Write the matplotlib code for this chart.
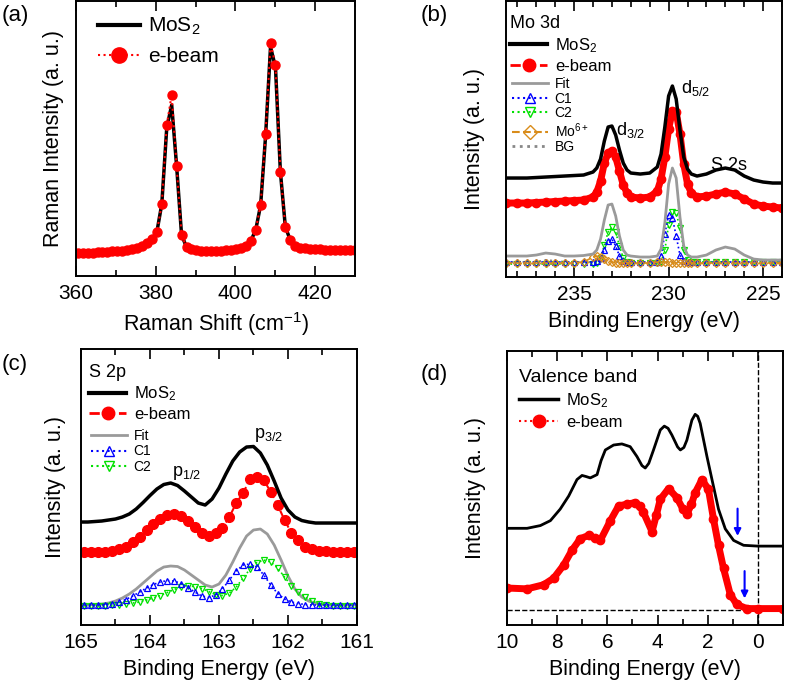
import numpy as np
import matplotlib.pyplot as plt
from matplotlib.lines import Line2D
from matplotlib.ticker import MultipleLocator

plt.rcParams['font.family'] = ['Liberation Sans', 'DejaVu Sans']
plt.rcParams['mathtext.fontset'] = 'custom'
plt.rcParams['mathtext.rm'] = 'Liberation Sans'
plt.rcParams['mathtext.it'] = 'Liberation Sans:italic'
plt.rcParams['axes.linewidth'] = 1.4

# ---- (a) Raman ----
raman_shift = np.round(360.44 + 1.24 * np.arange(57), 2)
raman_ebeam = [23, 23, 23, 23.5, 24, 24, 24.5, 25, 25, 25.5, 26, 27, 28, 30, 33, 37, 44, 72, 151, 181,
               110, 41, 29, 27, 26, 25.5, 25, 25, 25, 25.5, 26, 26.5, 27, 28, 30, 35, 46, 71, 142, 233,
               211, 104, 49, 36, 30, 28.5, 28, 27.5, 27, 27, 26.5, 26.5, 26, 26, 26, 26, 26]
raman_mos2 = [23, 23, 23, 23.5, 24, 24, 24.5, 25, 25, 25.5, 26, 27, 28, 30, 33, 37, 44, 72, 148, 171,
              110, 41, 29, 27, 26, 25.5, 25, 25, 25, 25.5, 26, 26.5, 27, 28, 30, 35, 46, 71, 140, 229,
              209, 104, 49, 36, 30, 28.5, 28, 27.5, 27, 27, 26.5, 26.5, 26, 26, 26, 26, 26]

# ---- (b) Mo 3d ----
mo_be = [238.6, 238.0, 237.5, 237.0, 236.5, 236.0, 235.5, 235.0, 234.5, 234.0,
         233.8, 233.6, 233.4, 233.2, 233.0, 232.8, 232.6, 232.4, 232.2, 232.0,
         231.5, 231.0, 230.6, 230.4, 230.2, 230.0, 229.8, 229.6, 229.4, 229.2,
         229.0, 228.8, 228.5, 228.0, 227.5, 227.0, 226.5, 226.0, 225.5, 225.0,
         224.5, 224.0]
mo_mos2 = [99, 99, 99, 99.5, 100, 100.5, 101, 101.5, 102, 105,
           109, 118, 136, 150, 151, 142, 127, 114, 107, 104,
           103, 104, 110, 123, 150, 181, 191, 178, 147, 120,
           108, 103, 101, 103, 107, 109, 107, 101, 97, 95,
           94, 94]
mo_ebeam = [74, 74, 74, 74.5, 75, 75.5, 76, 76.5, 77, 80,
            85, 96, 114, 124, 126, 120, 106, 92, 84, 80,
            79, 80, 86, 98, 120, 148, 166, 165, 143, 113,
            93, 84, 80, 81, 83, 85, 83, 78, 73, 71,
            70, 69]
mo_fit = [21, 21, 21, 22, 24, 23, 21, 21, 21.5, 23,
          27, 38, 57, 72, 73, 61, 41, 27, 22, 21,
          20, 20, 21, 28, 54, 93, 109, 99, 60, 31,
          22, 20, 20, 22, 27, 30, 28, 22, 18, 17,
          17, 17]
mo_c1 = [15, 15, 15, 15, 15, 15, 15, 15, 15, 15,
         16, 19, 27, 36, 38, 31, 21, 16, 15, 15,
         15, 15, 15, 21, 43, 62, 59, 41, 22, 16,
         15, 15, 15, 15, 15, 15, 15, 15, 15, 15,
         15, 15]
mo_c2 = [13, 13, 13, 13, 13, 13, 13, 13, 13, 13,
         14, 19, 32, 45, 50, 45, 31, 19, 15, 14,
         14, 14, 14, 15, 27, 52, 65, 64, 49, 27,
         17, 15, 15, 15, 15, 15, 15, 15, 15, 15,
         15, 15]
mo_mo6 = [14, 14, 14, 14, 14, 14, 14, 14, 15, 20,
          21, 20, 18, 16, 15, 14, 14, 14, 14, 14,
          14, 14, 15, 15, 15, 15, 14, 14, 14, 14,
          14, 14, 14, 14, 14, 14, 14, 14, 14, 14,
          14, 14]
mo_bg = [15, 15, 15, 15, 17, 16, 15, 15, 15, 15,
         15, 15, 15, 15, 15, 15, 15, 15, 15, 15,
         15, 15, 15, 15, 15, 15, 15, 15, 15, 15,
         15, 15, 15, 15, 15, 15, 15, 15, 15, 15,
         15, 15]

# ---- (c) S 2p ----
s_be_line = np.round(np.linspace(165.0, 161.0, 41), 2)
s_be_pts = np.round(np.linspace(164.95, 161.05, 40), 2)
s_mos2 = [103, 103, 103.5, 104, 105, 106, 108, 111, 116, 122.5,
          129.5, 136, 140.5, 142, 139.5, 134, 128, 122, 120, 126,
          137, 151, 164, 173, 178, 178.5, 172, 160, 144, 127,
          115, 108, 104.5, 103, 102, 102, 102, 102, 102, 102, 102]
s_fit = [20, 20, 20.5, 21, 22, 24, 27, 31, 36, 42,
         48, 54, 58, 59, 58.5, 55, 50, 45, 40, 38,
         41, 50, 63, 77, 89, 95, 96, 91, 80, 65,
         49, 36, 28, 24, 21.5, 20.5, 20, 20, 20, 20, 20]
s_ebeam = [73, 73, 73, 73, 74, 76, 78, 83, 88, 95,
           101, 106, 110, 111, 109, 104, 98, 92, 89, 92,
           97, 108, 122, 132, 146, 148, 145, 133, 120, 105,
           92, 85, 78, 76, 74, 74, 73, 73, 73, 73]
s_c1 = [20, 20, 20, 20.5, 21.5, 23, 25.5, 29, 33, 37,
        40.5, 43, 44.5, 44, 41.5, 37.5, 33, 29, 27.5, 30,
        36, 45, 54, 60, 61, 58, 50, 40, 31.5, 26,
        23, 21.5, 20.5, 20, 20, 20, 20, 20, 20, 20]
s_c2 = [19, 19, 19, 19.5, 20, 20.5, 21, 22, 23, 25,
        27, 29.5, 32.5, 35.5, 38, 39, 38.5, 36.5, 33.5, 30.5,
        29.5, 32, 38, 47, 56, 62.5, 65, 63, 57, 48,
        39.5, 33, 28, 24, 21.5, 20, 19.5, 19, 19, 19]

# ---- (d) valence band ----
vb_be_mos2 = [10.0, 9.2, 8.67, 8.27, 7.88, 7.54, 7.21, 7.01, 6.85, 6.68, 6.41,
              6.25, 6.08, 5.75, 5.42, 5.09, 4.82, 4.62, 4.49, 4.35, 4.16, 3.89, 3.73,
              3.58, 3.43, 3.20, 3.09, 2.95, 2.83, 2.63, 2.50, 2.40, 2.30, 2.03,
              1.83, 1.57, 1.30, 0.97, 0.57, 0.0, -1.0]
vb_mos2 = [35.3, 35.3, 36.3, 38.1, 42.3, 47.1, 53.1, 54.6, 54.2, 53.7, 54.9,
           60.0, 63.9, 65.7, 66.1, 65.1, 61.5, 58.2, 57.3, 59.0, 63.9, 71.2, 72.6,
           71.8, 69.4, 65.0, 63.9, 64.8, 67.5, 74.8, 76.9, 76.2, 73.6, 61.5,
           53.1, 42.3, 35.1, 30.9, 29.1, 28.8, 28.8]
vb_be_ebeam = [10.0, 9.2, 8.54, 8.14, 7.74, 7.41, 7.08, 6.75, 6.50, 6.28, 5.88,
               5.55, 5.22, 4.89, 4.70, 4.56, 4.22, 4.05, 3.89, 3.56, 3.23, 3.00, 2.83,
               2.65, 2.50, 2.23, 1.97, 1.77, 1.57, 1.37, 1.10, 0.84, 0.44, 0.0, -1.0]
vb_ebeam = [13.5, 13.2, 14.7, 17.1, 21.9, 27.3, 31.5, 32.7, 31.8, 30.9, 38.1,
            43.5, 44.1, 44.7, 43.3, 41.1, 34.1, 40.0, 45.9, 49.8, 46.5, 42.5, 40.5,
            44.0, 48.3, 53.1, 49.5, 38.7, 29.1, 20.7, 11.1, 7.5, 6.0, 6.0, 6.0]
vb_edges = [0.81, 0.53]        # arrow positions (eV)
vb_edge_tops = [43.5, 20.7]    # arrow tails


def style_axis(ax, xlim, ylim, major, minor, labelpad):
    ax.set_xlim(*xlim)
    ax.set_ylim(*ylim)
    ax.xaxis.set_major_locator(MultipleLocator(major))
    ax.xaxis.set_minor_locator(MultipleLocator(minor))
    ax.tick_params(axis='x', which='both', direction='in', top=True,
                   labelsize=15, width=1.2, pad=6)
    ax.tick_params(axis='x', which='major', length=7)
    ax.tick_params(axis='x', which='minor', length=4)
    ax.tick_params(axis='y', which='both', left=False, labelleft=False)
    ax.set_xlabel('Binding Energy (eV)', fontsize=15.5, labelpad=5)
    ax.set_ylabel('Intensity (a. u.)', fontsize=15.5, labelpad=labelpad)


fig = plt.figure(figsize=(7.87, 6.81), dpi=100)
ax_a = fig.add_axes([0.0966, 0.5947, 0.3545, 0.4038])
ax_b = fig.add_axes([0.6430, 0.5932, 0.3507, 0.4053])
ax_c = fig.add_axes([0.1029, 0.0822, 0.3507, 0.4053])
ax_d = fig.add_axes([0.6442, 0.0822, 0.3507, 0.4023])

red_c = '#ff0000'
green_c = '#00e000'
blue_c = '#0000ff'
orange_c = '#d98c1a'
gray_c = '#9a9a9a'

# (a)
ax_a.plot(raman_shift, raman_mos2, color='k', lw=2.5)
ax_a.plot(raman_shift, raman_ebeam, color=red_c, ls=':', lw=1.5, marker='o', ms=6.5)
style_axis(ax_a, (360, 430), (0, 275), 20, 10, 9)
ax_a.set_xlabel('Raman Shift (cm$^{-1}$)', fontsize=15.5, labelpad=5)
ax_a.set_ylabel('Raman Intensity (a. u.)', fontsize=15.5, labelpad=9)
h_a = [Line2D([], [], color='k', lw=3),
       Line2D([], [], color=red_c, ls=':', lw=1.5, marker='o', ms=11)]
ax_a.legend(h_a, ['MoS$_2$', 'e-beam'], loc='upper left', bbox_to_anchor=(0.08, 0.945),
            frameon=False, fontsize=15, handlelength=2.0, handletextpad=0.4,
            labelspacing=0.45, borderaxespad=0, borderpad=0)

# (b)
ax_b.plot(mo_be, mo_bg, color='#888888', ls=':', lw=1.5)
ax_b.plot(mo_be, mo_c2, color=green_c, ls=':', lw=1.2, marker='v', mfc='none', ms=5, mew=0.9)
ax_b.plot(mo_be, mo_c1, color=blue_c, ls=':', lw=1.2, marker='^', mfc='none', ms=5, mew=0.9)
ax_b.plot(mo_be, mo_mo6, color=orange_c, ls='--', lw=1.2, marker='D', mfc='none', ms=4, mew=0.9)
ax_b.plot(mo_be, mo_fit, color=gray_c, lw=2)
ax_b.plot(mo_be, mo_ebeam, color=red_c, lw=5)
ax_b.plot(mo_be, mo_ebeam, color=red_c, ls='none', marker='o', ms=6)
ax_b.plot(mo_be, mo_mos2, color='k', lw=2.5)
style_axis(ax_b, (238.6, 224.0), (0, 276), 5, 1, 15)
ax_b.text(232.0, 147, 'd$_{3/2}$', fontsize=13, ha='center', va='center')
ax_b.text(228.6, 189, 'd$_{5/2}$', fontsize=13, ha='center', va='center')
ax_b.text(226.8, 112, 'S 2s', fontsize=13, ha='center', va='center')
h_b1 = [Line2D([], [], color='k', lw=3),
        Line2D([], [], color=red_c, ls='--', lw=2, marker='o', ms=9)]
leg_b1 = ax_b.legend(h_b1, ['MoS$_2$', 'e-beam'], title='Mo 3d', loc='upper left',
                     bbox_to_anchor=(0.015, 0.95), frameon=False, fontsize=12,
                     title_fontsize=13, alignment='left', handlelength=2.2,
                     handletextpad=0.5, labelspacing=0.25, borderaxespad=0, borderpad=0)
ax_b.add_artist(leg_b1)
h_b2 = [Line2D([], [], color=gray_c, lw=2),
        Line2D([], [], color=blue_c, ls=':', lw=1.5, marker='^', mfc='none', ms=7),
        Line2D([], [], color=green_c, ls=':', lw=1.5, marker='v', mfc='none', ms=7),
        Line2D([], [], color=orange_c, ls='--', lw=1.5, marker='D', mfc='none', ms=7),
        Line2D([], [], color='#888888', ls=':', lw=2)]
ax_b.legend(h_b2, ['Fit', 'C1', 'C2', 'Mo$^{6+}$', 'BG'], loc='upper left',
            bbox_to_anchor=(0.02, 0.725), frameon=False, fontsize=10,
            handlelength=2.6, handletextpad=0.5, labelspacing=0.05,
            borderaxespad=0, borderpad=0)

# (c)
ax_c.plot(s_be_line, s_fit, color=gray_c, lw=2)
ax_c.plot(s_be_pts, s_c2, color=green_c, ls=':', lw=1.2, marker='v', mfc='none', ms=5, mew=0.9)
ax_c.plot(s_be_pts, s_c1, color=blue_c, ls=':', lw=1.2, marker='^', mfc='none', ms=5, mew=0.9)
ax_c.plot(s_be_pts, s_ebeam, color=red_c, ls='--', lw=1.5, marker='o', ms=7)
ax_c.plot(s_be_line, s_mos2, color='k', lw=2.5)
style_axis(ax_c, (165, 161), (0, 276), 1, 0.5, 11)
ax_c.text(163.47, 152, 'p$_{1/2}$', fontsize=13, ha='center', va='center')
ax_c.text(162.28, 190, 'p$_{3/2}$', fontsize=13, ha='center', va='center')
leg_c1 = ax_c.legend(h_b1, ['MoS$_2$', 'e-beam'], title='S 2p', loc='upper left',
                     bbox_to_anchor=(0.03, 0.945), frameon=False, fontsize=12,
                     title_fontsize=13, alignment='left', handlelength=2.2,
                     handletextpad=0.5, labelspacing=0.2, borderaxespad=0, borderpad=0)
ax_c.add_artist(leg_c1)
ax_c.legend(h_b2[:3], ['Fit', 'C1', 'C2'], loc='upper left',
            bbox_to_anchor=(0.035, 0.71), frameon=False, fontsize=10,
            handlelength=2.6, handletextpad=0.5, labelspacing=0.1,
            borderaxespad=0, borderpad=0)

# (d)
ax_d.axvline(0, color='k', ls='--', lw=1, zorder=1)
ax_d.axhline(5.6, color='k', ls='--', lw=1, zorder=1)
ax_d.plot(vb_be_mos2, vb_mos2, color='k', lw=2)
ax_d.plot(vb_be_ebeam, vb_ebeam, color=red_c, lw=5)
ax_d.plot(vb_be_ebeam, vb_ebeam, color=red_c, ls='none', marker='o', ms=6)
for xe, yt in zip(vb_edges, vb_edge_tops):
    ax_d.annotate('', xy=(xe, yt - 12), xytext=(xe, yt),
                  arrowprops=dict(arrowstyle='-|>', color=blue_c, lw=1.5,
                                  mutation_scale=10))
style_axis(ax_d, (10, -1), (0, 100), 2, 1, 15)
h_d = [Line2D([], [], color='k', lw=2.5),
       Line2D([], [], color=red_c, ls=':', lw=1.5, marker='o', ms=9)]
ax_d.legend(h_d, ['MoS$_2$', 'e-beam'], title='Valence band', loc='upper left',
            bbox_to_anchor=(0.045, 0.935), frameon=False, fontsize=12,
            title_fontsize=14, alignment='left', handlelength=2.3,
            handletextpad=0.5, labelspacing=0.3, borderaxespad=0, borderpad=0)

for lab, (px, py) in zip(['(a)', '(b)', '(c)', '(d)'],
                         [(15, 15), (434, 15), (15, 365), (434, 375)]):
    fig.text(px / 787, 1 - py / 681, lab, fontsize=16, ha='center', va='center')

fig.savefig('out.png', dpi=100)
